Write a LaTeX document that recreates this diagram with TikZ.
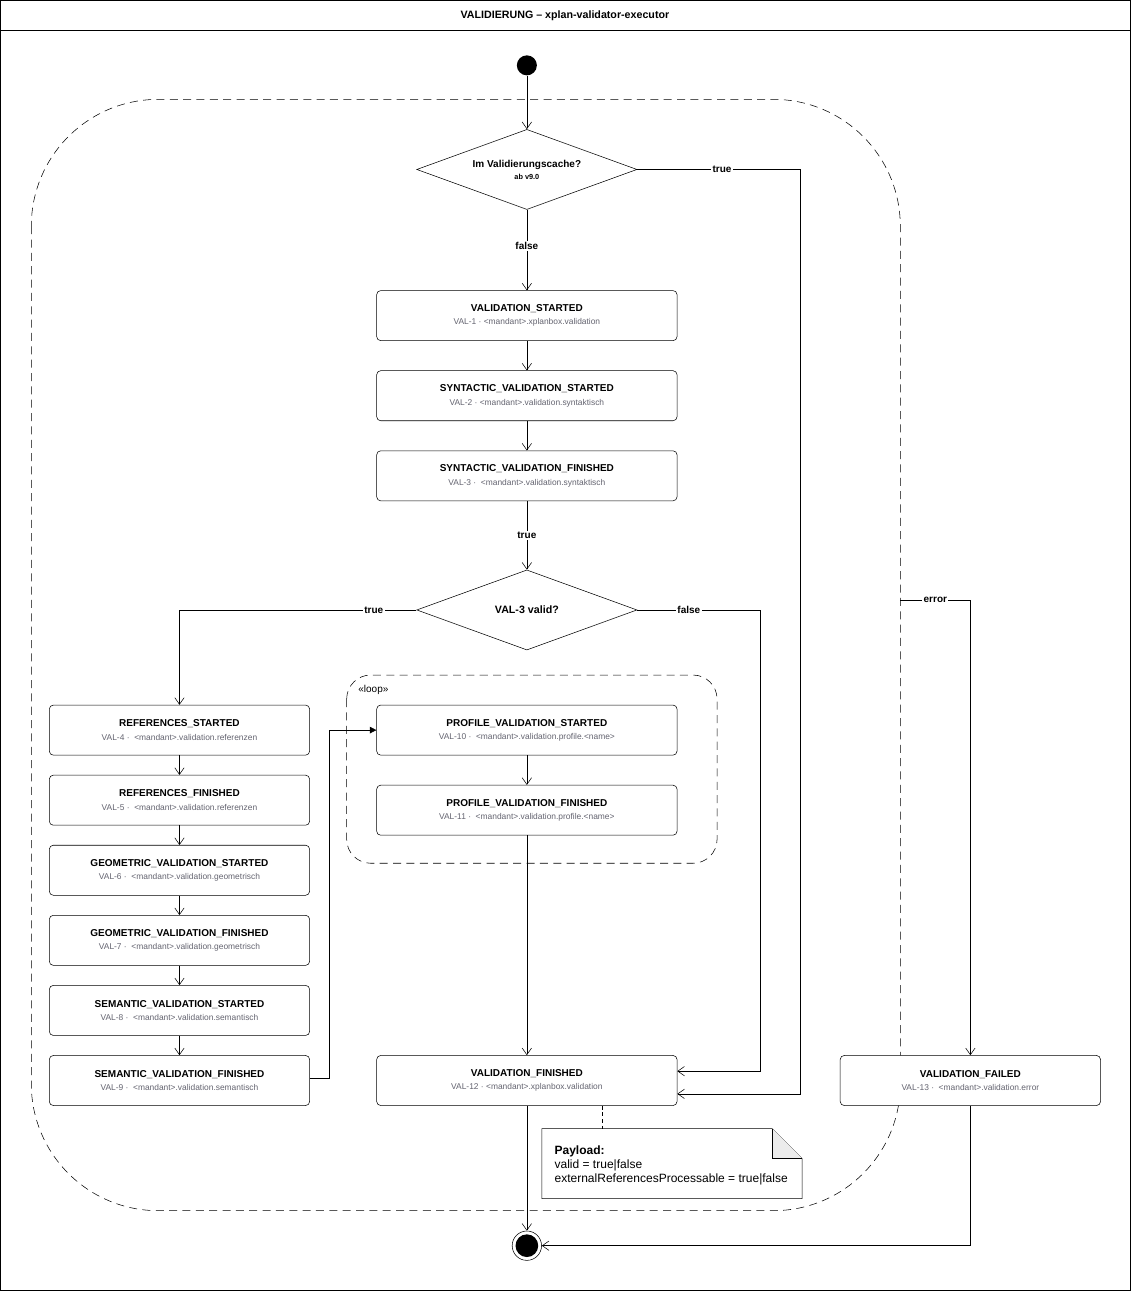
\documentclass[tikz,border=0pt]{standalone}
\usepackage{fontspec}
\setmainfont{Liberation Sans}
\usetikzlibrary{positioning, arrows.meta, calc, shapes.geometric, backgrounds}
\definecolor{subgray}{RGB}{100,100,112}
\newcommand{\evt}[2]{\textbf{#1}\\[1pt]{\fontsize{6.3}{7}\selectfont\color{subgray}#2}}

\begin{document}
\begin{tikzpicture}[
    x=0.75pt, y=-0.75pt,
    font=\fontsize{7.5}{9}\selectfont,
    % Styles
    event_box/.style={
        draw,
        rounded corners=3pt,
        minimum width=225pt,
        minimum height=37.5pt,
        align=center,
        fill=white
    },
    event_small/.style={event_box, minimum width=195pt},
    decision/.style={
        draw,
        diamond,
        aspect=2.75,
        minimum width=165pt,
        minimum height=60pt,
        inner sep=0pt,
        align=center,
        font=\fontsize{7.5}{8}\selectfont\bfseries
    },
    region/.style={dash pattern=on 6pt off 4pt},
    arrow/.style={-{Straight Barb[length=5pt,width=7pt]}, thin},
    arrow_filled/.style={-{Triangle[length=5pt,width=5pt]}, thin},
    edge_label/.style={font=\fontsize{7.5}{9}\selectfont\bfseries, fill=white, inner sep=1pt}
]

    % --- Frame and title ---
    \draw (1,1) rectangle (1130,1290);
    \draw (1,31) -- (1130,31);
    \node[font=\fontsize{8}{9}\selectfont\bfseries] (title) at (565,16) {VALIDIERUNG – xplan-validator-executor};

    % --- Regions ---
    \begin{scope}[on background layer]
        \draw[region, rounded corners=95pt] (32,100) rectangle (900,1210);
        \draw[region, rounded corners=18pt] (347,675) rectangle (717,863);
    \end{scope}
    \node[anchor=west, font=\fontsize{7.5}{9}\selectfont] (looplabel) at (354,690) {«loop»};

    % --- Start ---
    \node[circle, fill=black, minimum size=15pt, inner sep=0pt] (start) at (527,66) {};

    % --- Main column ---
    \node[decision] (cache) at (527,170) {Im Validierungscache?\\[1pt]{\fontsize{5.5}{6}\selectfont ab v9.0}};
    \node[event_box] (val1) at (527,316) {\evt{VALIDATION\_STARTED}{VAL-1 · <mandant>.xplanbox.validation}};
    \node[event_box] (val2) at (527,396) {\evt{SYNTACTIC\_VALIDATION\_STARTED}{VAL-2 · <mandant>.validation.syntaktisch}};
    \node[event_box] (val3) at (527,476) {\evt{SYNTACTIC\_VALIDATION\_FINISHED}{VAL-3 ·\ \ <mandant>.validation.syntaktisch}};
    \node[decision, font=\fontsize{8}{9}\selectfont\bfseries] (valid) at (527,610) {VAL-3 valid?};

    % --- Left column ---
    \node[event_small] (val4) at (180,730) {\evt{REFERENCES\_STARTED}{VAL-4 ·\ \ <mandant>.validation.referenzen}};
    \node[event_small] (val5) at (180,800) {\evt{REFERENCES\_FINISHED}{VAL-5 ·\ \ <mandant>.validation.referenzen}};
    \node[event_small] (val6) at (180,870) {\evt{GEOMETRIC\_VALIDATION\_STARTED}{VAL-6 ·\ \ <mandant>.validation.geometrisch}};
    \node[event_small] (val7) at (180,940) {\evt{GEOMETRIC\_VALIDATION\_FINISHED}{VAL-7 ·\ \ <mandant>.validation.geometrisch}};
    \node[event_small] (val8) at (180,1010) {\evt{SEMANTIC\_VALIDATION\_STARTED}{VAL-8 ·\ \ <mandant>.validation.semantisch}};
    \node[event_small] (val9) at (180,1080) {\evt{SEMANTIC\_VALIDATION\_FINISHED}{VAL-9 ·\ \ <mandant>.validation.semantisch}};

    % --- Loop ---
    \node[event_box] (val10) at (527,730) {\evt{PROFILE\_VALIDATION\_STARTED}{VAL-10 ·\ \ <mandant>.validation.profile.<name>}};
    \node[event_box] (val11) at (527,810) {\evt{PROFILE\_VALIDATION\_FINISHED}{VAL-11 ·\ \ <mandant>.validation.profile.<name>}};

    % --- Results ---
    \node[event_box] (val12) at (527,1080) {\evt{VALIDATION\_FINISHED}{VAL-12 · <mandant>.xplanbox.validation}};
    \node[event_small] (val13) at (970,1080) {\evt{VALIDATION\_FAILED}{VAL-13 ·\ \ <mandant>.validation.error}};

    % --- End ---
    \node[circle, draw, minimum size=22pt, inner sep=0pt] (stop) at (527,1245) {};
    \node[circle, fill=black, minimum size=17pt, inner sep=0pt] (stopdot) at (stop) {};

    % --- Note ---
    \coordinate (note_nw) at (542,1128);
    \draw[fill=white] (note_nw) -- (772,1128) -- (802,1158) -- (802,1198) -- (542,1198) -- cycle;
    \draw[fill=gray!15] (772,1128) -- (772,1158) -- (802,1158);
    \node[anchor=north west, align=left, font=\fontsize{9}{10.5}\selectfont] (payload) at (550,1140)
        {\textbf{Payload:}\\valid = true|false\\externalReferencesProcessable = true|false};
    \coordinate (note_top) at (602,1128);
    \draw[densely dashed] (val12.south -| note_top) -- (note_top);

    % --- Arrows ---
    \draw[arrow] (start) -- (cache);
    \draw[arrow] (cache.south) -- node[edge_label, pos=0.45] {false} (val1.north);
    \draw[arrow] (cache.east) -- node[edge_label, pos=0.52] {true} (800,170) |- ([yshift=-10pt]val12.east);
    \draw[arrow] (val1) -- (val2);
    \draw[arrow] (val2) -- (val3);
    \draw[arrow] (val3.south) -- node[edge_label] {true} (valid.north);
    \draw[arrow] (valid.west) -- node[edge_label, pos=0.18] {true} (180,610) -- (val4.north);
    \draw[arrow] (valid.east) -- node[edge_label, pos=0.42] {false} (760,610) |- ([yshift=7pt]val12.east);
    \draw[arrow] (val4) -- (val5);
    \draw[arrow] (val5) -- (val6);
    \draw[arrow] (val6) -- (val7);
    \draw[arrow] (val7) -- (val8);
    \draw[arrow] (val8) -- (val9);
    \draw[arrow_filled] ([yshift=1.5pt]val9.east) -- (330,1078) |- (val10.west);
    \draw[arrow] (val10) -- (val11);
    \draw[arrow] (val11) -- (val12);
    \draw[arrow] (val12) -- (stop);
    \draw[arrow] (900,600) -- node[edge_label] {error} (970,600) -- (val13.north);
    \draw[arrow] (val13.south) |- (stop.east);

\end{tikzpicture}
\end{document}
